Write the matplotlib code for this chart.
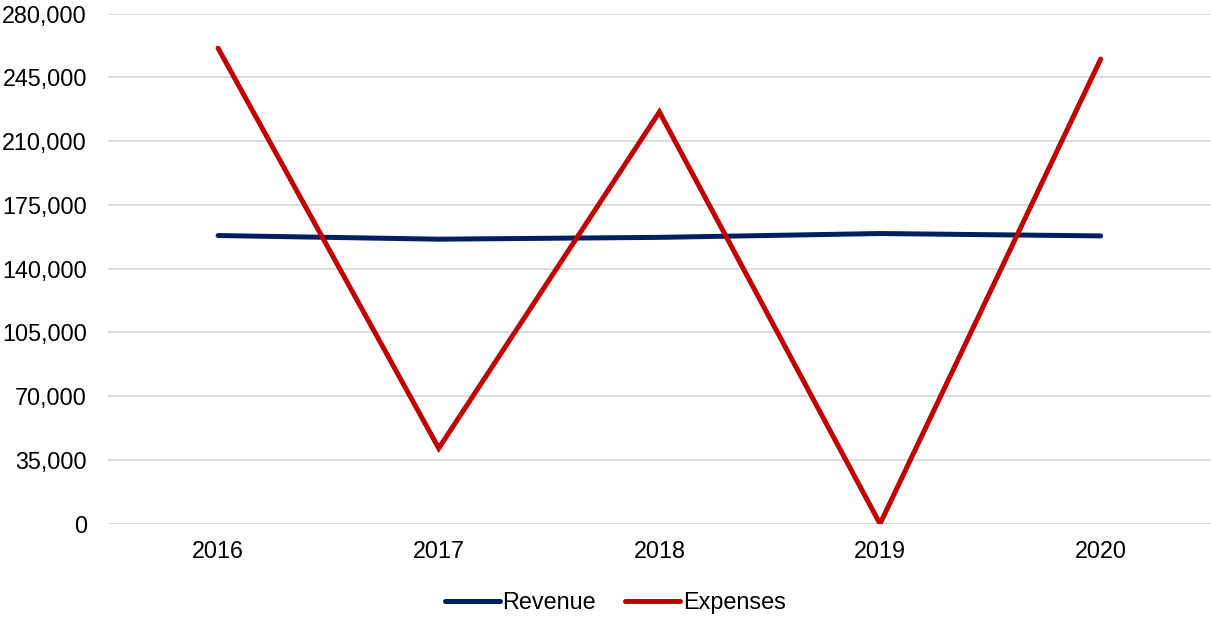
import matplotlib.pyplot as plt
from matplotlib.ticker import FuncFormatter

plt.rcParams['font.family'] = ['Liberation Sans', 'DejaVu Sans']

# Data
years = ['2016', '2017', '2018', '2019', '2020']
revenue = [158200, 156200, 157200, 159300, 158000]
expenses = [261000, 41500, 226000, 0, 255000]

fig = plt.figure(figsize=(12.11, 6.17), dpi=100)
ax = fig.add_axes([0.089, 0.151, 0.911, 0.827])

x = range(len(years))
ax.plot(x, revenue, color='#002060', lw=3.6, label='Revenue',
        solid_capstyle='round', solid_joinstyle='miter', zorder=3)
ax.plot(x, expenses, color='#C00000', lw=3.6, label='Expenses',
        solid_capstyle='round', solid_joinstyle='miter', zorder=3)

ax.set_xlim(-0.5, 4.5)
ax.set_ylim(0, 280000)
ax.set_yticks(range(0, 280001, 35000))
ax.yaxis.set_major_formatter(FuncFormatter(lambda v, p: f'{int(v):,}'))
ax.set_xticks(list(x))
ax.set_xticklabels(years)

ax.grid(axis='y', color='#D9D9D9', lw=1.3)
ax.set_axisbelow(True)
for s in ax.spines.values():
    s.set_visible(False)
ax.tick_params(axis='y', length=0, pad=15, labelsize=16.8)
ax.tick_params(axis='x', length=0, pad=12, labelsize=16.8)

fig.legend(loc='center', bbox_to_anchor=(0.508, 0.023), ncol=2, frameon=False,
           fontsize=16.8, handlelength=2.35, handletextpad=0.12, columnspacing=1.25)

fig.savefig('out.png', dpi=100)
